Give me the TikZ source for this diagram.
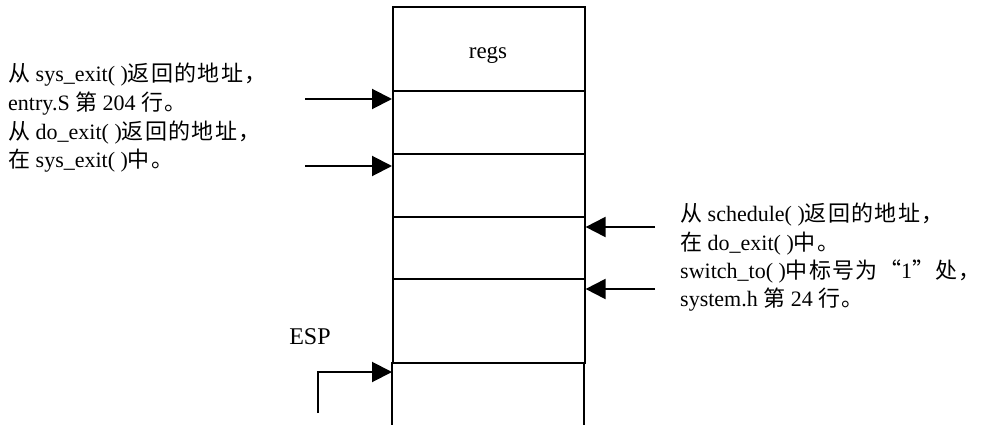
\documentclass[tikz,border=0pt]{standalone}
\usepackage{fontspec}
\setmainfont{Liberation Serif}
\newfontfamily\cjk[Scale=1.0,LetterSpace=6]{Noto Sans CJK SC}
\usetikzlibrary{arrows.meta,calc}
\tikzset{
  lbl/.style={anchor=west,inner sep=0pt,font=\fontsize{22}{29}\selectfont},
  cell/.style={draw,line width=1.6pt,minimum width=192pt,inner sep=0pt,anchor=north west},
  ptr/.style={line width=2pt,-{Triangle[length=20pt,width=20pt]}},
}
\begin{document}
\begin{tikzpicture}[x=1pt,y=-1pt]
\useasboundingbox (0,0) rectangle (987,425);
% stack cells
\node[cell,minimum height=84pt] (c0) at (392,6) {};
\node[font=\fontsize{23}{26}\selectfont] (regs) at (488,55) {regs};
\node[cell,minimum height=63pt] (c1) at (392,90) {};
\node[cell,minimum height=63pt] (c2) at (392,153) {};
\node[cell,minimum height=62pt] (c3) at (392,216) {};
\node[cell,minimum height=84pt] (c4) at (392,278) {};
\coordinate (c5nw) at (392,362);
\coordinate (c5ne) at (584,362);
\coordinate (c5sw) at (392,425);
\coordinate (c5se) at (584,425);
\draw[line width=1.6pt] (c5nw) -- (c5sw) (c5ne) -- (c5se);
% left labels
\node[lbl] (l1) at (8,75) {{\cjk 从} sys\_exit( ){\cjk 返回的地址，}};
\node[lbl] (l2) at (8,104) {entry.S {\cjk 第} 204 {\cjk 行。}};
\node[lbl] (l3) at (8,133) {{\cjk 从} do\_exit( ){\cjk 返回的地址，}};
\node[lbl] (l4) at (8,161) {{\cjk 在} sys\_exit( ){\cjk 中。}};
% right labels
\node[lbl] (r1) at (680,215) {{\cjk 从} schedule( ){\cjk 返回的地址，}};
\node[lbl] (r2) at (680,244) {{\cjk 在} do\_exit( ){\cjk 中。}};
\node[lbl] (r3) at (680,272) {switch\_to( ){\cjk 中标号为“}1{\cjk ”处，}};
\node[lbl] (r4) at (680,300) {system.h {\cjk 第} 24 {\cjk 行。}};
\node[font=\fontsize{24}{28}\selectfont] (esp) at (310,337) {ESP};
% arrows
\coordinate (a1s) at (305,99);
\coordinate (a2s) at (305,166);
\coordinate (a3s) at (655,227);
\coordinate (a4s) at (655,289);
\coordinate (a5s) at (318,413);
\coordinate (a5m) at (318,372);
\draw[ptr] (a1s) -- (a1s -| c1.west);
\draw[ptr] (a2s) -- (a2s -| c2.west);
\draw[ptr] (a3s) -- (a3s -| c3.east);
\draw[ptr] (a4s) -- (a4s -| c4.east);
\draw[ptr] (a5s) -- (a5m) -- (a5m -| c5nw);
\end{tikzpicture}
\end{document}
